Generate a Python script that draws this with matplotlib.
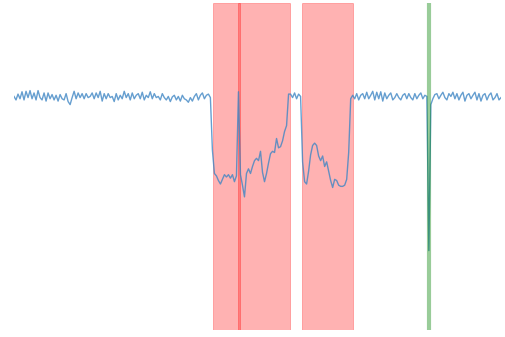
import numpy as np
import matplotlib
matplotlib.use("Agg")
import matplotlib.pyplot as plt

# Signal values (normalised amplitude), one sample per time step
signal = [
    # baseline before first event
    1.00, 0.985, 1.01, 0.99, 1.02, 0.985, 1.022, 0.995, 1.025, 0.99,
    1.015, 0.985, 1.025, 0.995, 0.985, 1.015, 0.98, 1.015, 0.99, 1.008,
    0.985, 1.005, 0.98, 1.008, 0.99, 0.985, 1.012, 0.978, 0.965, 0.995,
    1.022, 0.99, 1.015, 0.995, 1.012, 0.99, 1.012, 0.995, 1.0, 1.015,
    0.99, 1.015, 0.995, 1.022, 0.98, 1.012, 0.99, 1.012, 0.995, 1.0,
    0.978, 1.012, 0.985, 1.005, 0.99, 1.022, 0.995, 1.012, 0.985, 1.015,
    0.99, 1.005, 1.012, 0.99, 1.018, 0.985, 1.005, 0.995, 1.02, 0.99,
    1.012, 0.995, 1.0, 0.985, 1.012, 0.995, 0.985, 1.0, 0.978, 0.998,
    1.005, 0.985, 1.0, 0.98, 1.005, 0.99, 0.985, 0.975, 0.995, 0.98,
    1.0, 1.012, 0.985, 1.005, 1.015, 0.99, 1.005, 1.01, 0.995,
    # first and second anomaly
    0.77, 0.67, 0.66, 0.64, 0.625, 0.645, 0.665, 0.655, 0.665, 0.65,
    0.665, 0.635, 0.66, 1.02, 0.665, 0.62, 0.57, 0.67, 0.69, 0.67,
    0.70, 0.725, 0.735, 0.725, 0.765, 0.675, 0.635, 0.67, 0.715, 0.755,
    0.765, 0.76, 0.82, 0.78, 0.785, 0.81, 0.85, 0.875, 1.01,
    # short normal gap
    1.01, 0.995, 1.015, 0.99, 1.01, 1.0,
    # third anomaly
    0.72, 0.635, 0.625, 0.68, 0.75, 0.79, 0.80, 0.79, 0.745, 0.725,
    0.745, 0.70, 0.72, 0.68, 0.64, 0.61, 0.645, 0.64, 0.62, 0.615,
    0.615, 0.62, 0.645, 0.76, 0.99,
    # baseline after
    1.005, 0.99, 1.012, 0.985, 1.005, 1.012, 0.99, 1.018, 0.99, 1.005,
    1.022, 0.985, 1.018, 0.99, 1.02, 0.98, 1.015, 0.99, 1.005, 1.015,
    0.985, 0.995, 1.012, 0.995, 0.985, 1.005, 1.012, 0.99, 1.012, 0.995,
    0.985, 1.012, 0.99, 1.005, 1.015, 0.99, 1.005, 1.0,
    0.34,
    0.965, 0.99, 1.008, 1.012, 0.99, 1.005, 1.018, 0.995, 0.985, 1.012,
    1.0, 1.018, 0.99, 1.012, 0.985, 1.005, 1.018, 0.98, 1.005, 1.012,
    0.99, 1.005, 1.018, 0.985, 1.012, 0.98, 1.005, 1.012, 0.985, 1.005,
    1.015, 0.985, 0.995, 1.012, 0.985, 0.995,
]

# Anomaly windows (start, end) in sample units
anomaly_starts = [99.5, 111.8, 143.5]
anomaly_ends = [112.8, 137.5, 169.0]

# Single-point event marker
event_positions = [207]

t = np.arange(len(signal))

fig = plt.figure(figsize=(5.05, 3.37), dpi=100)
ax = fig.add_axes([14 / 505, 7 / 337, 487 / 505, 327 / 337])

ax.plot(t, signal, color="#3f86c4", lw=1.0, alpha=0.8, zorder=2)

for s, e in zip(anomaly_starts, anomaly_ends):
    ax.axvspan(s, e, facecolor="red", edgecolor="red", alpha=0.3, lw=0.6, zorder=1)

for p in event_positions:
    ax.axvline(p, color="green", alpha=0.4, lw=3, zorder=3)

ax.set_xlim(0, len(signal) - 1)
ax.set_ylim(0, 1.40)
ax.axis("off")

fig.savefig("out.png", dpi=100)
